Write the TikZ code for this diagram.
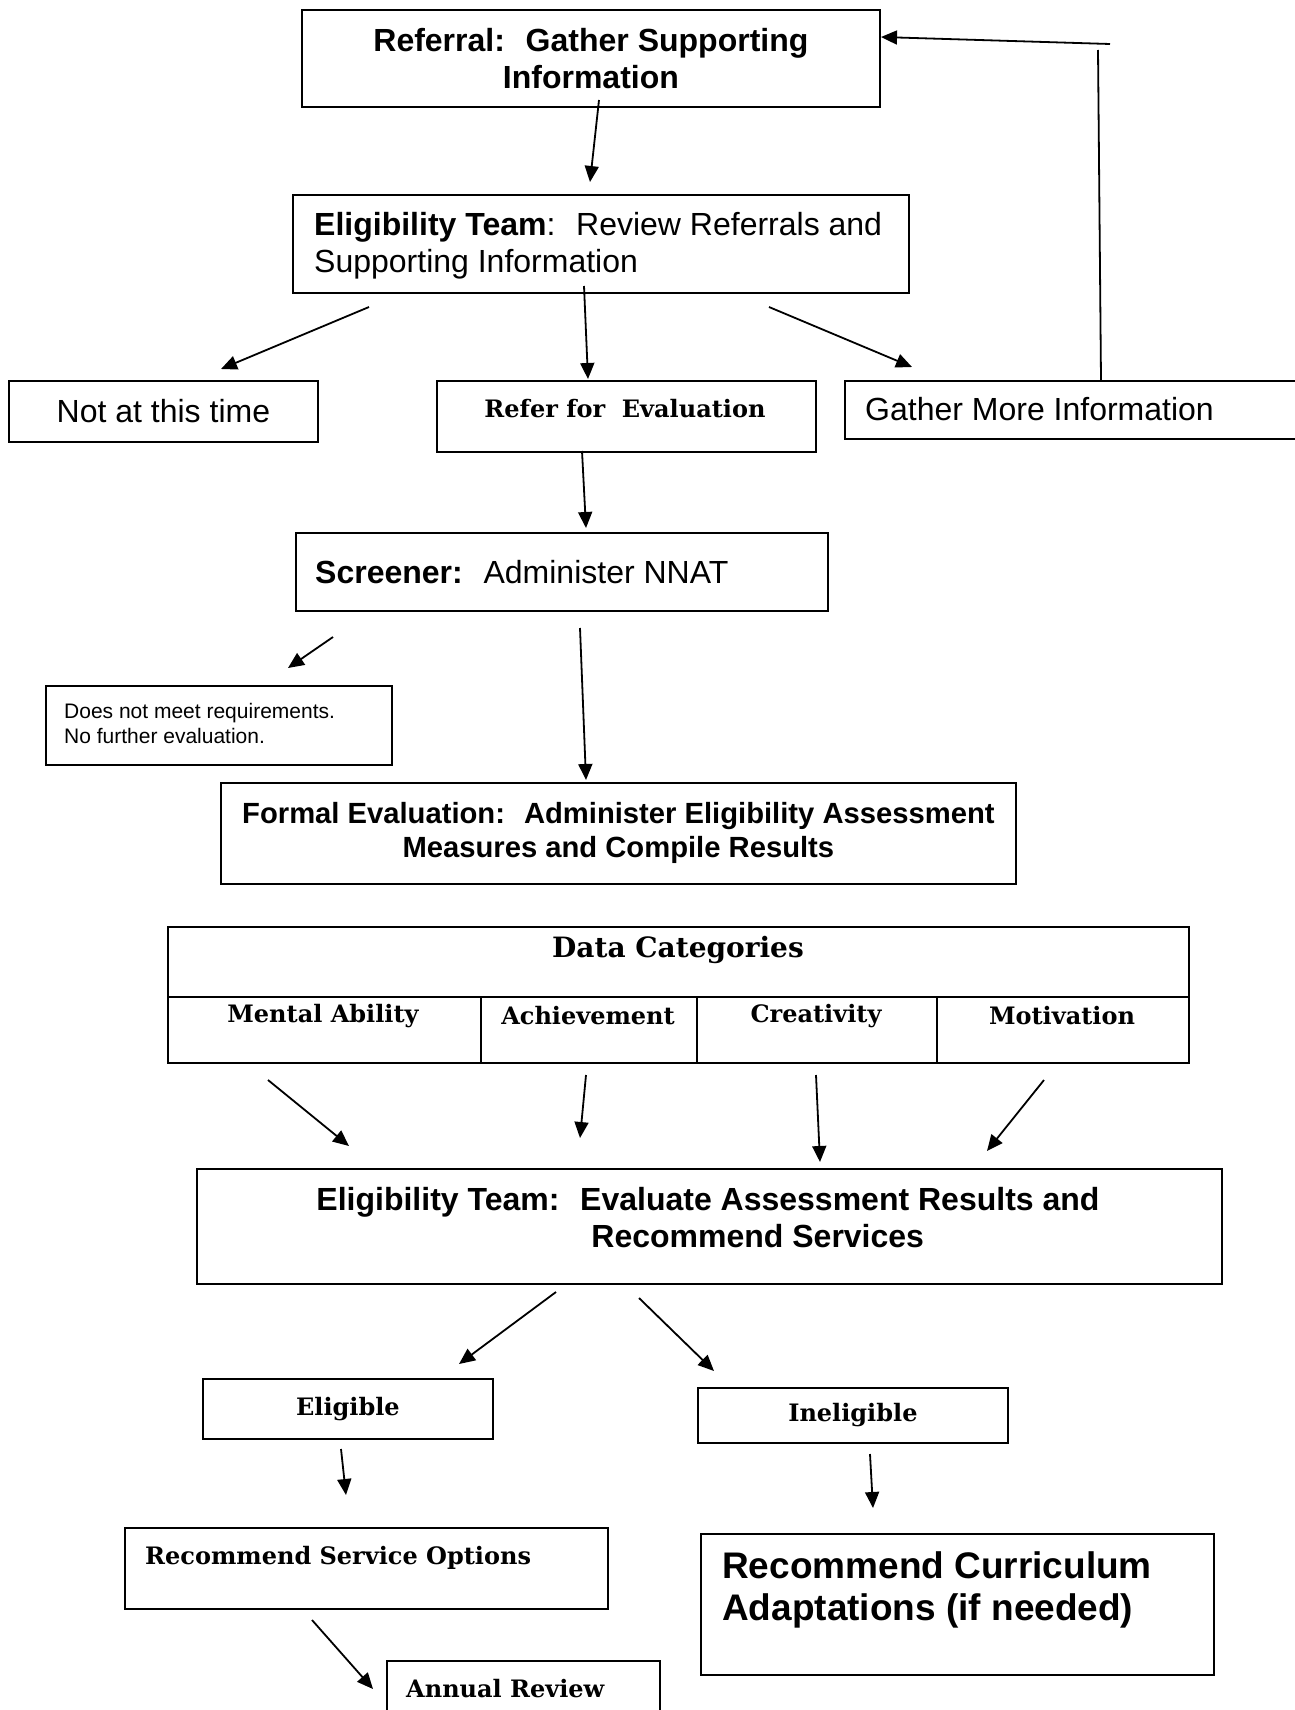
\documentclass[tikz,border=0pt]{standalone}
\usepackage{fontspec}
\setmainfont{Liberation Sans}
\newfontfamily\dserif{DejaVu Serif}
\usetikzlibrary{arrows.meta}
\begin{document}
\begin{tikzpicture}[x=1pt,y=-1pt,
  box/.style={draw, line width=1.8pt, inner sep=0pt, anchor=north west},
  txt/.style={inner sep=0pt},
  arr/.style={line width=1.8pt, -{Triangle[length=16pt,width=14pt]}},
  ln/.style={line width=1.8pt},
  sfb/.style={font=\bfseries\fontsize{32}{37}\selectfont},
  sfbm/.style={font=\bfseries\fontsize{29.2}{34}\selectfont},
  sf/.style={font=\fontsize{32}{37}\selectfont},
  sfs/.style={font=\fontsize{21}{25}\selectfont},
  sfbig/.style={font=\bfseries\fontsize{37}{42}\selectfont},
  srb/.style={font=\dserif\bfseries\fontsize{24}{28}\selectfont},
  srbig/.style={font=\dserif\bfseries\fontsize{28}{32}\selectfont}]
\path[use as bounding box, fill=white] (0,0) rectangle (1295,1710);
\clip (0,0) rectangle (1295,1710);

% boxes
\node (ref) [box, sfb, align=center, minimum width=578pt, minimum height=97pt] at (301,9) {Referral:~ Gather Supporting\\Information};
\node (elig) [box, minimum width=616pt, minimum height=98pt] at (292,194) {};
\node (eligt) [txt, sf, align=left, anchor=west] at (314,246) {\textbf{Eligibility Team}:~ Review Referrals and\\Supporting Information};
\node (notnow) [box, sf, minimum width=309pt, minimum height=61pt] at (8,380) {Not at this time};
\node (refer) [box, minimum width=379pt, minimum height=71pt] at (436,380) {};
\node (refert) [txt, srb] at (625,409) {Refer for~ Evaluation};
\node (gather) [box, minimum width=496pt, minimum height=58pt] at (844,380) {};
\node (gathert) [txt, sf, anchor=west] at (865,409) {Gather More Information};
\node (screen) [box, minimum width=532pt, minimum height=78pt] at (295,532) {};
\node (screent) [txt, sf, anchor=west] at (315,572) {\textbf{Screener:}~ Administer NNAT};
\node (dnm) [box, minimum width=346pt, minimum height=79pt] at (45,685) {};
\node (dnmt) [txt, sfs, align=left, anchor=west] at (64,723) {Does not meet requirements.\\No further evaluation.};
\node (formal) [box, sfbm, align=center, minimum width=795pt, minimum height=101pt] at (220,782) {Formal Evaluation:~ Administer Eligibility Assessment\\Measures and Compile Results};

% data categories table
\node (dc) [box, minimum width=1021pt, minimum height=70pt] at (167,926) {};
\node (dct) [txt, srbig] at (678,950) {Data Categories};
\node (c1) [box, minimum width=313pt, minimum height=66pt] at (167,996) {};
\node (c2) [box, minimum width=216pt, minimum height=66pt] at (480,996) {};
\node (c3) [box, minimum width=240pt, minimum height=66pt] at (696,996) {};
\node (c4) [box, minimum width=252pt, minimum height=66pt] at (936,996) {};
\node (c1t) [txt, srb] at (323,1016) {Mental Ability};
\node (c2t) [txt, srb] at (588,1016) {Achievement};
\node (c3t) [txt, srb] at (816,1016) {Creativity};
\node (c4t) [txt, srb] at (1062,1016) {Motivation};

\node (eval) [box, minimum width=1025pt, minimum height=115pt] at (196,1168) {};
\node (evalt) [txt, sfb, align=left] at (708,1218) {Eligibility Team:~ Evaluate Assessment Results and\\\hspace*{275pt}Recommend Services};

\node (eligible) [box, srb, minimum width=290pt, minimum height=60pt] at (202,1378) {Eligible};
\node (inelig) [box, srb, minimum width=310pt, minimum height=55pt] at (697,1387) {Ineligible};
\node (rso) [box, minimum width=483pt, minimum height=81pt] at (124,1527) {};
\node (rsot) [txt, srb, anchor=west] at (145,1558) {Recommend Service Options};
\node (rca) [box, minimum width=513pt, minimum height=141pt] at (700,1533) {};
\node (rcat) [txt, sfbig, align=left, anchor=west] at (722,1590) {Recommend Curriculum\\Adaptations (if needed)};
\node (annual) [box, minimum width=273pt, minimum height=80pt] at (386,1660) {};
\node (annualt) [txt, srb, anchor=west] at (406,1689) {Annual Review};

% connector end points
\coordinate (a1s) at (599,100);  \coordinate (a1e) at (590,182);
\coordinate (a2s) at (369,307);  \coordinate (a2e) at (221,369);
\coordinate (a3s) at (584,286);  \coordinate (a3e) at (588,379);
\coordinate (a4s) at (769,307);  \coordinate (a4e) at (912,367);
\coordinate (fbv) at (1098,50);  \coordinate (fbh) at (1110,44);
\coordinate (fbe) at (881,37);   \coordinate (fbs) at (1101,380);
\coordinate (a5s) at (582,451);  \coordinate (a5e) at (586,528);
\coordinate (a6s) at (333,637);  \coordinate (a6e) at (288,668);
\coordinate (a7s) at (580,628);  \coordinate (a7e) at (586,780);
\coordinate (a8s) at (268,1080); \coordinate (a8e) at (349,1146);
\coordinate (a9s) at (586,1075); \coordinate (a9e) at (580,1138);
\coordinate (a10s) at (816,1075); \coordinate (a10e) at (820,1162);
\coordinate (a11s) at (1044,1080); \coordinate (a11e) at (987,1151);
\coordinate (a12s) at (556,1292); \coordinate (a12e) at (459,1364);
\coordinate (a13s) at (639,1298); \coordinate (a13e) at (714,1371);
\coordinate (a14s) at (341,1449); \coordinate (a14e) at (346,1495);
\coordinate (a15s) at (870,1454); \coordinate (a15e) at (873,1508);
\coordinate (a16s) at (312,1620); \coordinate (a16e) at (373,1689);

% connectors
\draw[arr] (a1s) -- (a1e);
\draw[arr] (a2s) -- (a2e);
\draw[arr] (a3s) -- (a3e);
\draw[arr] (a4s) -- (a4e);
\draw[ln] (fbs) -- (fbv);
\draw[arr] (fbh) -- (fbe);
\draw[arr] (a5s) -- (a5e);
\draw[arr] (a6s) -- (a6e);
\draw[arr] (a7s) -- (a7e);
\draw[arr] (a8s) -- (a8e);
\draw[arr] (a9s) -- (a9e);
\draw[arr] (a10s) -- (a10e);
\draw[arr] (a11s) -- (a11e);
\draw[arr] (a12s) -- (a12e);
\draw[arr] (a13s) -- (a13e);
\draw[arr] (a14s) -- (a14e);
\draw[arr] (a15s) -- (a15e);
\draw[arr] (a16s) -- (a16e);
\end{tikzpicture}
\end{document}
